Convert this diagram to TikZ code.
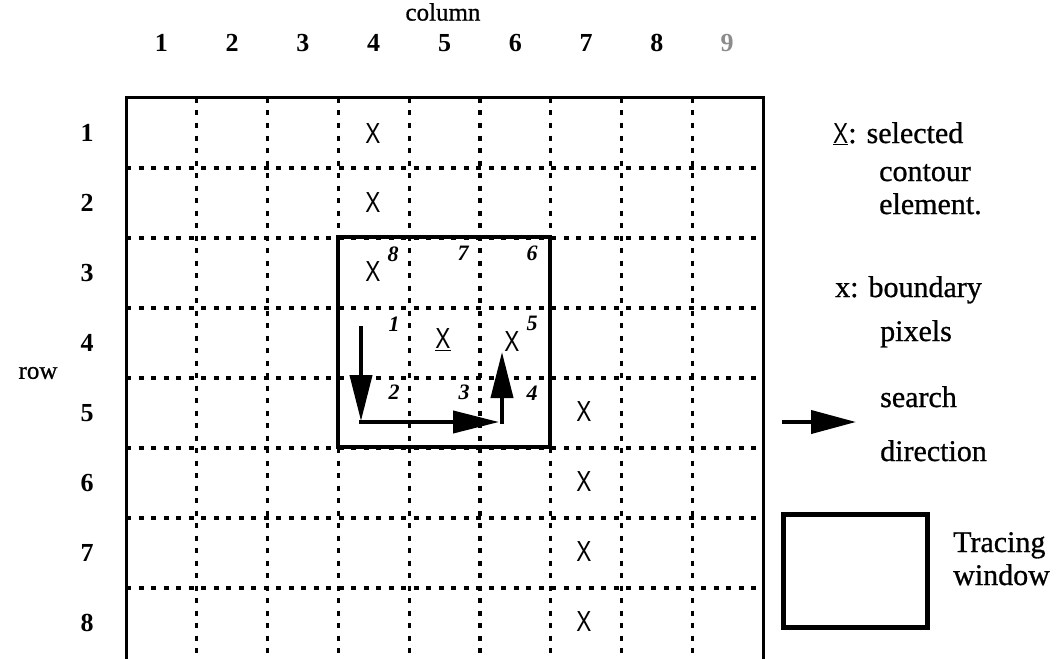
\documentclass[tikz,border=0pt]{standalone}
\usepackage{graphicx}
\usepackage{fontspec}
\setmainfont{Liberation Serif}
\newfontfamily\xfont{Liberation Sans}
\newfontfamily\heavyserif[FakeBold=0.8]{Liberation Serif}
\usetikzlibrary{arrows.meta}
\newcommand{\xmk}{\scalebox{0.78}[1]{\xfont X}}
\begin{document}
\begin{tikzpicture}[x=1pt,y=-1pt,
  lab/.style={font=\fontsize{26}{26}\selectfont\bfseries, inner sep=0pt},
  axis/.style={font=\fontsize{25}{25}\selectfont\heavyserif, inner sep=0pt},
  xm/.style={font=\fontsize{29}{29}\selectfont, inner sep=0pt},
  num/.style={font=\fontsize{22}{22}\selectfont\bfseries\itshape, inner sep=0pt},
  leg/.style={font=\fontsize{30}{30}\selectfont\heavyserif, inner sep=0pt, anchor=base west},
  grid line/.style={line width=3.2pt, dash pattern=on 5pt off 7.5pt},
  frame/.style={line width=3pt},
  win/.style={line width=4.5pt},
  arr/.style={line width=4pt, -{Triangle[length=46pt,width=22pt]}},
  larr/.style={line width=4pt, -{Triangle[length=45pt,width=23pt]}}]
\useasboundingbox (0,0) rectangle (1059,658);

% dashed grid
\foreach \i in {1,...,8} {
  \draw[grid line] ({126+70.78*\i},98) -- ({126+70.78*\i},658);
}
\foreach \j in {1,...,7} {
  \draw[grid line] (126,{98+70*\j}) -- (763,{98+70*\j});
}
% outer frame
\draw[frame] (126,660) -- (126,98) -- (763,98) -- (763,660);

% column labels
\node[axis] (colt) at (443,12) {column};
\foreach \i in {1,...,8} {
  \node[lab] (c\i) at ({161.4+70.78*(\i-1)},43) {\i};
}
\node[lab, text=black!45] (c9) at (727,43) {9};
% row labels
\node[axis] (rowt) at (38,373) {row};
\foreach \j in {1,...,8} {
  \node[lab] (r\j) at (87,{133+70*(\j-1)}) {\j};
}

% tracing window
\draw[win] (338,237) rectangle (550,447);

% X marks
\node[xm] (x14) at (373,134) {\xmk};
\node[xm] (x24) at (373,203) {\xmk};
\node[xm] (x34) at (373,272) {\xmk};
\node[xm] (x45) at (443,340) {\underline{\xmk}};
\node[xm] (x46) at (512,342) {\xmk};
\node[xm] (x57) at (584,412) {\xmk};
\node[xm] (x67) at (584,482) {\xmk};
\node[xm] (x77) at (584,552) {\xmk};
\node[xm] (x87) at (584,622) {\xmk};

% neighbour numbers
\node[num] (n8) at (393,254) {8};
\node[num] (n7) at (463,253) {7};
\node[num] (n6) at (532,253) {6};
\node[num] (n1) at (394,324) {1};
\node[num] (n5) at (532,323) {5};
\node[num] (n2) at (394,392) {2};
\node[num] (n3) at (464,392) {3};
\node[num] (n4) at (532,393) {4};

% search path
\coordinate (p0) at (361,326);
\coordinate (p1) at (361,421);
\coordinate (p1b) at (359,422);
\coordinate (p2) at (499,422);
\coordinate (p2b) at (502,424);
\coordinate (p3) at (502,352);
\draw[arr] (p0) -- (p1);
\draw[arr] (p1b) -- (p2);
\draw[arr] (p2b) -- (p3);

% legend
\node[leg] (l1) at (833,143) {{\fontsize{29}{29}\selectfont\underline{\xmk}}: selected};
\node[leg] (l2) at (879,181) {contour};
\node[leg] (l3) at (879,214) {element.};
\node[leg] (l4) at (835,297) {x: boundary};
\node[leg] (l5) at (880,341) {pixels};
\coordinate (la0) at (782,422);
\coordinate (la1) at (856,422);
\draw[larr] (la0) -- (la1);
\node[leg] (l6) at (880,407) {search};
\node[leg] (l7) at (880,461) {direction};
\draw[win, line width=5pt] (783,514) rectangle (927,627);
\node[leg] (l8) at (953,552) {Tracing};
\node[leg] (l9) at (953,585) {window};
\end{tikzpicture}
\end{document}
